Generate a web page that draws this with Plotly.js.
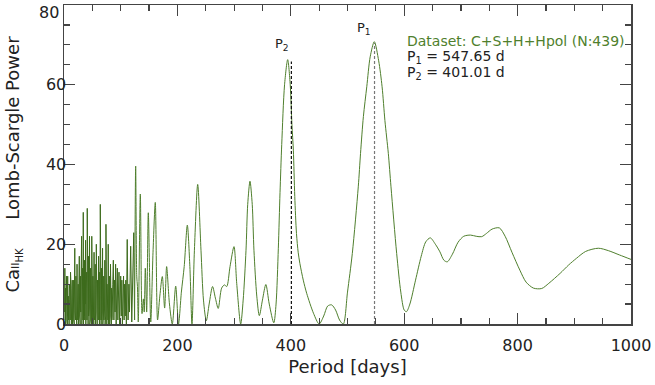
<!DOCTYPE html>
<html>
<head>
<meta charset="utf-8">
<script src="https://cdn.plot.ly/plotly-3.0.1.min.js"></script>
<style>html,body{margin:0;padding:0;background:#fff;}</style>
</head>
<body>
<div id="chart" style="width:655px;height:385px;"></div>
<script>
// Dense short-period part of the periodogram (days, power)
const noisyPeriod = [
  1,1.5,2,2.5,3,3.5,4,4.5,5,5.5, 6,6.5,7,7.5,8,8.5,9,9.5,10,10.5,
  11,11.5,12,12.5,13,13.5,14,14.5,15,15.5, 16,16.5,17,17.5,18,18.5,19,19.5,20,20.5,
  21,21.5,22,22.5,23,23.5,24,24.5,25,25.5, 26,26.5,27,27.5,28,28.5,29,29.5,30,30.5,
  31,31.5,32,32.5,33,33.5,34,34.5,35,35.5, 36,36.5,37,37.5,38,38.5,39,39.5,40,40.5,
  41,41.5,42,42.5,43,43.5,44,44.5,45,45.5, 46,46.5,47,47.5,48,48.5,49,49.5,50,50.5,
  51,51.5,52,52.5,53,53.5,54,54.5,55,55.5, 56,56.5,57,57.5,58,58.5,59,59.5,60,60.5,
  61,61.5,62,62.5,63,63.5,64,64.5,65,65.5, 66,66.5,67,67.5,68,68.5,69,69.5,70,70.5,
  71,71.5,72,72.5,73,73.5,74,74.5,75,75.5, 76,76.5,77,77.5,78,78.5,79,79.5,80,80.5,
  81,81.5,82,82.5,83,83.5,84,84.5,
  85,86,87,88,89,90,91,92,93,94,95,96,97,98,99,100,
  101,102,103,104,105,106,107,108,109,110,111.5,113,114.5,115.5,117.6,119.5,121,123,124.5];
const noisyPower = [
  3,14,1,9,0,8,2,12,1,6, 0,12,2,7,1,6,0,10,3,8,
  1,13,2,9,0,7,3,11,0,6, 2,11,1,9,0,7,19,3,10,1,
  12,2,8,0,15,1,9,3,10,0, 13,1,17,2,9,0,12,3,11,4,
  22,0,10,2,14,1,28,0,12,2, 16,1,11,5,21,0,9,2,13,1,
  29,3,12,0,17,2,10,4,22,0, 11,1,14,3,9,0,22,2,12,1,
  12,3,10,0,18,1,9,2,15,0, 11,3,20,1,9,0,11,4,8,1,
  17,2,10,0,13,1,30,2,9,0, 14,1,8,3,19,0,10,2,12,1,
  9,4,16,0,8,2,25,1,9,0, 10,2,7,1,20,0,8,3,12,0,
  7,2,15,1,6,0,9,1,
  2,10,16,1,11,3,15,0,9,14,1,8,13,0,7,12,
  2,11,0,6,12,1,10,2,11,0,21.2,1,10,3,19.5,0.5,8,22.9,1];

// Smoother long-period part
const smoothPeriod = [124.5,126.4,128.3,129.5,131,134.6,137.6,140,141.5,143.4,
  145.8,148.7,153,157,161,165,169,173.4,177.5,181,
  186,191,197,202,207,212,217.5,222,225.7,230,
  235.8,241.6,246,251,256,262,267,272,278,283,
  287,292.8,299.8,304.6,311.6,316,321,324,328,332,
  335,340,344.5,350,356,362,370,374,378,381,
  384,389,394.5,399,402,404.5,407,410,413,416,
  422,428,440,450,458,465,472,479,486,492.6,
  500,508.5,519,523,528,534,540,547.3,555,561,
  566,572,576.7,586.7,594,600,604,610,620,630,
  638,646,655,663,670,676,685,695,705,717,
  727,736.7,745,755,767.8,778,790,804,815,828,
  842.5,855,875,890,904,920,942.4,960,980,1000];
const smoothPower = [1,39.6,12,9.4,0.5,32.6,2.6,6.3,3,14,
  3,27.9,0.5,18,30.5,1,7,11.9,4,14.4,
  5,0,9.5,0,8,14.4,24.8,14.4,0,18.5,
  35,18.5,6,0.8,5,9.4,6.5,3.9,9,9.8,
  9.4,14.4,19.4,10.2,0,6,18.5,30,35.8,30,
  18.5,7,2.1,6,9.9,5,0.3,5,19,33,
  45,60,66.3,60,50,43.6,32,22.7,18,15.2,
  11,7.7,2.7,0,2,4.5,4.8,3.5,1,0,
  8,17.7,34.4,42.8,52,59.5,67,70.8,66,59.5,
  51,42.8,34.4,17.7,8,3.5,3.1,5,11,17,
  20.6,21.6,20,18.1,16,15.6,17.5,20.5,22,22.3,
  22,21.9,22.7,23.8,24.1,22,18,13.5,10.5,9,
  8.9,10.2,12.7,14.8,16.5,18.2,19,18.4,17.3,16.2];

// Axis tick values and labels
const yTickVals = [0, 20, 40, 60, 80];
const yTickText = ['0', '20', '40', '60', '80'];

// Detected periods and their peak powers
const peakNames = ['P<sub>1</sub>', 'P<sub>2</sub>'];
const peakPeriods = [547.65, 401.01];
const peakPowers = [70.5, 65.8];
const datasetLabel = 'Dataset: C+S+H+Hpol (N:439)';

const green = '#4f7f2d';
const darkGreen = '#3d6b1c';
const font = 'DejaVu Sans, sans-serif';

const traces = [
  {x: noisyPeriod, y: noisyPower, mode: 'lines', line: {color: darkGreen, width: 1}, hoverinfo: 'skip'},
  {x: smoothPeriod, y: smoothPower, mode: 'lines', line: {color: green, width: 1, shape: 'spline', smoothing: 0.8}, hoverinfo: 'skip'},
  {x: [peakPeriods[1], peakPeriods[1]], y: [0, peakPowers[1]], mode: 'lines', line: {color: '#111', width: 1.2, dash: '3px,2px'}},
  {x: [peakPeriods[0], peakPeriods[0]], y: [0, peakPowers[0]], mode: 'lines', line: {color: '#777', width: 1.2, dash: '3px,2px'}}
];

const axisCommon = {
  showline: true, mirror: 'ticks', linecolor: '#444', linewidth: 1.5,
  ticks: 'inside', ticklen: 11, tickwidth: 1.2, tickcolor: '#444',
  showgrid: false, zeroline: false, ticklabeloverflow: 'allow',
  tickfont: {family: font, size: 16, color: '#222'}
};

// the top label sits just below its tick, as in the reference
const yTickTextDrawn = yTickText.slice(0, -1).concat(['']);

const layout = {
  width: 655, height: 385,
  margin: {l: 64, r: 24, t: 5, b: 61},
  paper_bgcolor: '#fff', plot_bgcolor: '#fff',
  showlegend: false,
  xaxis: Object.assign({}, axisCommon, {
    range: [0, 1000], tick0: 0, dtick: 200, ticklabelstandoff: 6,
    minor: {dtick: 50, ticks: 'inside', ticklen: 6, tickcolor: '#444', tickwidth: 1.2, showgrid: false},
    title: {text: 'Period [days]', font: {family: font, size: 18, color: '#222'}, standoff: 6}
  }),
  yaxis: Object.assign({}, axisCommon, {
    range: [0, 80], tickmode: 'array', tickvals: yTickVals, ticktext: yTickTextDrawn, ticklabelstandoff: -7,
    minor: {dtick: 5, ticks: 'inside', ticklen: 6, tickcolor: '#444', tickwidth: 1.2, showgrid: false},
    title: {text: "Ca<span style='font-size:11px'>II</span><sub><span style='font-size:10px'>HK</span></sub>&nbsp;&nbsp;&nbsp;&nbsp;&nbsp;Lomb-Scargle Power", font: {family: font, size: 18, color: '#222'}, standoff: 21}
  }),
  annotations: [
    {xref: 'paper', yref: 'paper', x: -0.006, y: 0.978, xanchor: 'right', yanchor: 'middle', text: yTickText[4], showarrow: false, font: {family: font, size: 16, color: '#222'}},
    {xref: 'x', yref: 'y', x: 529, y: 74, text: peakNames[0], showarrow: false, font: {family: font, size: 13, color: '#222'}},
    {xref: 'x', yref: 'y', x: 384, y: 70, text: peakNames[1], showarrow: false, font: {family: font, size: 13, color: '#222'}},
    {xref: 'x', yref: 'y', x: 601, y: 71, xanchor: 'left', text: datasetLabel, showarrow: false, font: {family: font, size: 14, color: green}},
    {xref: 'x', yref: 'y', x: 601, y: 67, xanchor: 'left', text: peakNames[0] + ' = ' + peakPeriods[0].toFixed(2) + ' d', showarrow: false, font: {family: font, size: 14, color: '#222'}},
    {xref: 'x', yref: 'y', x: 601, y: 63, xanchor: 'left', text: peakNames[1] + ' = ' + peakPeriods[1].toFixed(2) + ' d', showarrow: false, font: {family: font, size: 14, color: '#222'}}
  ]
};

Plotly.newPlot('chart', traces, layout, {displayModeBar: false, staticPlot: true});
</script>
</body>
</html>
